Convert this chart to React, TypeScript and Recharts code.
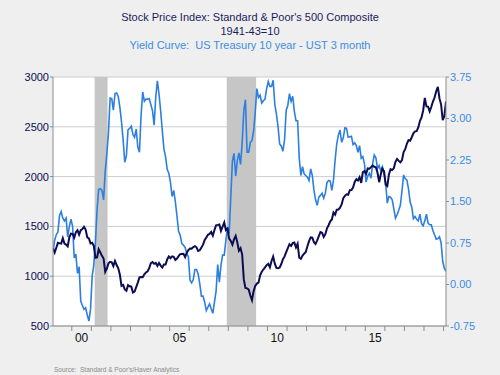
import React from 'react';
import {
  ComposedChart,
  Line,
  XAxis,
  YAxis,
  CartesianGrid,
  ReferenceArea,
} from 'recharts';

// monthly values, Jan 1999 .. Feb 2019
const START_YEAR = 1999;

const spx = [
  1280, 1238, 1286, 1335, 1330, 1327, 1381, 1328, 1318, 1300, 1391, 1428, // 1999
  1425, 1388, 1442, 1461, 1418, 1462, 1473, 1495, 1468, 1390, 1379, 1330, // 2000
  1336, 1305, 1185, 1189, 1270, 1238, 1204, 1178, 1044, 1077, 1129, 1144, // 2001
  1140, 1101, 1153, 1112, 1079, 1014, 903, 912, 867, 854, 910, 899, // 2002
  895, 837, 846, 890, 936, 988, 992, 990, 1019, 1038, 1049, 1081, // 2003
  1132, 1143, 1124, 1133, 1103, 1133, 1106, 1088, 1117, 1118, 1168, 1199, // 2004
  1181, 1199, 1195, 1164, 1178, 1202, 1222, 1224, 1225, 1192, 1237, 1262, // 2005
  1278, 1277, 1293, 1302, 1290, 1253, 1260, 1287, 1317, 1363, 1389, 1416, // 2006
  1424, 1444, 1407, 1464, 1511, 1515, 1520, 1454, 1497, 1539, 1463, 1479, // 2007
  1378, 1354, 1317, 1370, 1404, 1341, 1257, 1281, 1217, 968, 883, 878, // 2008
  866, 806, 760, 848, 902, 926, 935, 1010, 1045, 1067, 1088, 1111, // 2009
  1124, 1090, 1153, 1197, 1126, 1083, 1080, 1088, 1122, 1171, 1199, 1242, // 2010
  1283, 1321, 1304, 1332, 1338, 1288, 1325, 1185, 1174, 1207, 1226, 1243, // 2011
  1300, 1352, 1389, 1386, 1342, 1324, 1360, 1403, 1443, 1437, 1394, 1422, // 2012
  1480, 1512, 1551, 1570, 1640, 1619, 1668, 1670, 1688, 1720, 1784, 1807, // 2013
  1822, 1817, 1863, 1864, 1890, 1947, 1973, 1961, 1993, 1937, 2045, 2055, // 2014
  2028, 2082, 2080, 2095, 2111, 2099, 2094, 2039, 1944, 2024, 2080, 2054, // 2015
  1918, 1904, 2022, 2075, 2066, 2083, 2149, 2177, 2158, 2143, 2165, 2247, // 2016
  2275, 2329, 2366, 2360, 2395, 2434, 2454, 2456, 2493, 2557, 2594, 2664, // 2017
  2790, 2705, 2703, 2654, 2701, 2754, 2794, 2857, 2901, 2785, 2723, 2567, // 2018
  2607, 2754, // 2019
];

const yieldCurve = [
  0.60, 0.80, 0.90, 0.95, 1.25, 1.32, 1.20, 1.15, 1.20, 0.86, 1.05, 1.18, // 1999
  1.05, 0.48, 0.55, 0.20, 0.32, -0.30, -0.38, -0.45, -0.42, -0.55, -0.66, -0.45, // 2000
  0.15, 0.35, 0.75, 1.35, 1.72, 1.73, 1.70, 1.53, 2.04, 2.37, 2.74, 3.37, // 2001
  3.36, 3.15, 3.45, 3.46, 3.40, 3.20, 2.94, 2.61, 2.21, 2.33, 2.80, 2.82, // 2002
  2.86, 2.71, 2.66, 2.81, 2.48, 2.39, 3.06, 3.48, 3.31, 3.35, 3.35, 3.36, // 2003
  3.25, 3.14, 2.88, 3.39, 3.68, 3.44, 3.14, 2.78, 2.45, 2.31, 2.08, 2.01, // 2004
  1.85, 1.59, 1.70, 1.50, 1.24, 0.96, 0.89, 0.74, 0.71, 0.67, 0.57, 0.50, // 2005
  0.08, 0.03, 0.09, 0.27, 0.27, 0.19, 0.01, -0.21, -0.21, -0.32, -0.47, -0.41, // 2006
  -0.35, -0.44, -0.52, -0.32, -0.12, 0.36, 0.04, 0.35, 0.53, 0.53, 0.80, 1.03, // 2007
  0.92, 1.57, 2.23, 2.37, 1.96, 2.24, 2.38, 2.17, 2.56, 3.14, 3.34, 2.39, // 2008
  2.39, 2.57, 2.60, 2.77, 3.11, 3.54, 3.38, 3.42, 3.28, 3.32, 3.35, 3.54, // 2009
  3.67, 3.58, 3.58, 3.69, 3.26, 3.08, 2.85, 2.54, 2.50, 2.41, 2.62, 3.15, // 2010
  3.24, 3.45, 3.31, 3.40, 3.13, 2.96, 2.96, 2.28, 1.97, 2.13, 2.00, 1.97, // 2011
  1.94, 1.88, 2.09, 1.97, 1.71, 1.53, 1.43, 1.58, 1.61, 1.65, 1.56, 1.65, // 2012
  1.84, 1.88, 1.87, 1.70, 1.89, 2.25, 2.54, 2.70, 2.79, 2.57, 2.65, 2.83, // 2013
  2.82, 2.66, 2.67, 2.68, 2.53, 2.56, 2.51, 2.39, 2.51, 2.28, 2.31, 2.18, // 2014
  1.85, 1.96, 2.01, 1.92, 2.18, 2.34, 2.29, 2.10, 2.15, 2.05, 2.13, 2.01, // 2015
  1.83, 1.47, 1.59, 1.58, 1.53, 1.37, 1.20, 1.26, 1.34, 1.43, 1.69, 1.98, // 2016
  1.91, 1.89, 1.73, 1.49, 1.40, 1.19, 1.23, 1.18, 1.15, 1.27, 1.10, 1.06, // 2017
  1.15, 1.27, 1.11, 1.08, 1.08, 0.97, 0.90, 0.82, 0.83, 0.86, 0.75, 0.42, // 2018
  0.29, 0.24, // 2019
];

// NBER recessions (fractional years)
const recessions = [
  [2001.17, 2001.83],
  [2007.92, 2009.42],
];

const leftTicks = [500, 1000, 1500, 2000, 2500, 3000];
const rightTicks = [-0.75, 0, 0.75, 1.5, 2.25, 3, 3.75];
const yearTicks = [
  2000, 2001, 2002, 2003, 2004, 2005, 2006, 2007, 2008, 2009,
  2010, 2011, 2012, 2013, 2014, 2015, 2016, 2017, 2018, 2019,
];
const labelYears = [2000, 2005, 2010, 2015];

const X_MIN = 1999.04;
const X_MAX = 2019.125;

const W = 500;
const H = 375;
const LEFT_W = 53;
const RIGHT_W = 54;
const HALF_YEAR = (W - LEFT_W - RIGHT_W) / (X_MAX - X_MIN) / 2;

const NAVY = '#0c0c52';
const BLUE = '#2c7fe0';
const FONT = '"Liberation Sans", Arial, sans-serif';

const rows = spx.map((v, i) => ({
  t: START_YEAR + (i + 0.5) / 12,
  spx: v,
  yc: yieldCurve[i],
}));

function YearTick(props: any) {
  const { x, y, payload } = props;
  const yr = payload.value;
  if (!labelYears.includes(yr)) return <g />;
  return (
    <text
      x={x + HALF_YEAR}
      y={y}
      dy="0.71em"
      textAnchor="middle"
      fontSize={12}
      fontFamily={FONT}
      fill="#111"
    >
      {String(yr).slice(2)}
    </text>
  );
}

export default function App() {
  return (
    <div
      style={{
        position: 'absolute',
        left: 0,
        top: 0,
        width: W,
        height: H,
        background: '#efefef',
        fontFamily: FONT,
      }}
    >
      <div style={{ position: 'absolute', top: 10, width: W, textAlign: 'center', fontSize: 11, lineHeight: '14px', color: '#1b1b5e' }}>
        <div>Stock Price Index: Standard &amp; Poor's 500 Composite</div>
        <div>1941-43=10</div>
        <div style={{ color: '#3b8de4' }}>Yield Curve:&nbsp; US Treasury 10 year - UST 3 month</div>
      </div>
      <ComposedChart
        width={W}
        height={H}
        data={rows}
        margin={{ top: 77, right: 0, bottom: 29, left: 0 }}
      >
        <CartesianGrid
          yAxisId="left"
          vertical={false}
          stroke="#cdcdcd"
          fill="#ffffff"
          fillOpacity={1}
        />
        <XAxis
          dataKey="t"
          type="number"
          domain={[X_MIN, X_MAX]}
          ticks={yearTicks}
          interval={0}
          allowDataOverflow
          height={20}
          tickSize={5}
          tickMargin={2}
          stroke="#8c8c8c"
          tick={<YearTick />}
        />
        <YAxis
          yAxisId="left"
          domain={[500, 3000]}
          ticks={leftTicks}
          interval={0}
          width={LEFT_W}
          tickSize={3}
          tickMargin={1}
          stroke="#8c8c8c"
          tick={{ fontSize: 11, fill: NAVY, fontFamily: FONT }}
        />
        <YAxis
          yAxisId="right"
          orientation="right"
          domain={[-0.75, 3.75]}
          ticks={rightTicks}
          interval={0}
          width={RIGHT_W}
          tickSize={3}
          tickMargin={1}
          stroke="#8c8c8c"
          tick={{ fontSize: 11, fill: '#3b8de4', fontFamily: FONT }}
          tickFormatter={(v: number) => v.toFixed(2)}
        />
        {recessions.map(([a, b]) => (
          <ReferenceArea
            key={a}
            yAxisId="left"
            x1={a}
            x2={b}
            fill="#c6c6c6"
            fillOpacity={1}
            stroke="none"
          />
        ))}
        <Line
          yAxisId="right"
          type="linear"
          dataKey="yc"
          stroke={BLUE}
          strokeWidth={1.6}
          dot={false}
          isAnimationActive={false}
        />
        <Line
          yAxisId="left"
          type="linear"
          dataKey="spx"
          stroke={NAVY}
          strokeWidth={2}
          dot={false}
          isAnimationActive={false}
        />
      </ComposedChart>
      <div style={{ position: 'absolute', left: 54, top: 366, fontSize: 6.5, color: '#8a8a8a', whiteSpace: 'pre' }}>
        {"Source:  Standard & Poor's/Haver Analytics"}
      </div>
    </div>
  );
}
